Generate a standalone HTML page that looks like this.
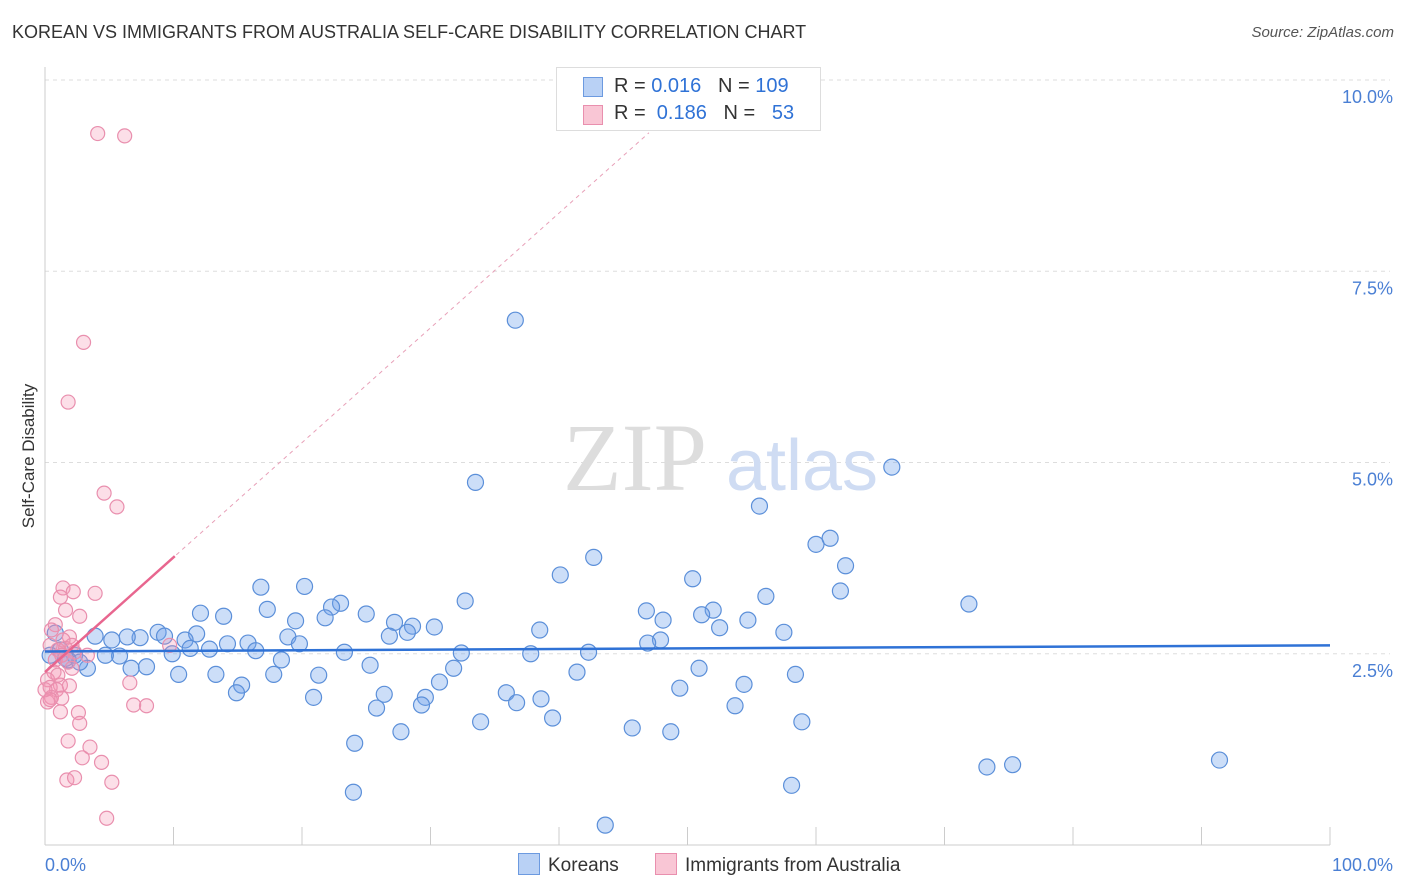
<!DOCTYPE html>
<html><head><meta charset="utf-8">
<style>
body{margin:0;background:#fff;font-family:"Liberation Sans",sans-serif;}
#wrap{position:relative;width:1406px;height:892px;overflow:hidden;}
.t{position:absolute;white-space:nowrap;}
</style></head>
<body>
<div id="wrap">
<div class="t" style="left:12px;top:22px;font-size:18px;color:#333;">KOREAN VS IMMIGRANTS FROM AUSTRALIA SELF-CARE DISABILITY CORRELATION CHART</div>
<div class="t" style="right:12px;top:24px;font-size:15px;color:#555;font-style:italic;">Source: ZipAtlas.com</div>
<svg id="plot" width="1406" height="892" style="position:absolute;left:0;top:0"></svg>
</div>
<script>
const yTicks=[2.5,5.0,7.5,10.0];
const yTickLabels=["2.5%","5.0%","7.5%","10.0%"];
const xTickLabels=["0.0%","100.0%"];
const koreanX=[36.6,33.5,65.9,55.6,42.7,40.1,60.0,61.1,62.3,50.4,61.9,56.1,71.9,32.7,20.2,16.8,23.0,22.3,25.0,27.2,21.8,19.5,17.3,12.1,13.9,46.8,52.0,51.1,48.1,54.7,52.5,57.5,38.5,30.3,28.6,28.2,26.8,18.9,19.8,15.8,14.2,11.8,10.9,8.8,9.3,7.4,6.4,5.2,3.9,47.9,46.9,42.3,37.8,32.4,23.3,16.4,12.8,11.3,9.9,5.8,4.7,2.3,3.3,6.7,7.9,10.4,13.3,17.8,18.4,21.3,25.3,31.8,30.7,41.4,50.9,58.4,54.4,49.4,35.9,38.6,36.7,26.4,29.6,20.9,15.3,14.9,25.8,29.3,53.7,39.5,33.9,58.9,45.7,48.7,27.7,24.1,73.3,75.3,91.4,58.1,24.0,43.6,0.8,1.2,1.8,0.4,1.6,2.7];
const koreanY=[6.86,4.74,4.94,4.43,3.76,3.53,3.93,4.01,3.65,3.48,3.32,3.25,3.15,3.19,3.38,3.37,3.16,3.11,3.02,2.91,2.97,2.93,3.08,3.03,2.99,3.06,3.07,3.01,2.94,2.94,2.84,2.78,2.81,2.85,2.86,2.78,2.73,2.72,2.63,2.64,2.63,2.76,2.68,2.78,2.73,2.71,2.72,2.68,2.73,2.68,2.64,2.52,2.50,2.51,2.52,2.54,2.56,2.57,2.50,2.47,2.48,2.48,2.31,2.31,2.33,2.23,2.23,2.23,2.42,2.22,2.35,2.31,2.13,2.26,2.31,2.23,2.10,2.05,1.99,1.91,1.86,1.97,1.93,1.93,2.09,1.99,1.79,1.83,1.82,1.66,1.61,1.61,1.53,1.48,1.48,1.33,1.02,1.05,1.11,0.78,0.69,0.26,2.77,2.55,2.42,2.48,2.44,2.39];
const ausX=[4.1,6.2,3.0,1.8,4.6,5.6,1.4,2.2,3.9,1.2,1.6,2.7,0.8,0.5,1.9,1.4,0.4,1.0,2.3,3.3,9.7,1.8,2.1,0.7,0.2,1.2,0.4,0.9,1.9,6.6,0.5,1.3,0.2,6.9,7.9,1.2,2.6,2.7,1.8,3.5,2.9,4.4,1.7,2.3,5.2,4.8,0.8,1.0,1.6,2.1,0.0,0.4,1.3];
const ausY=[9.30,9.27,6.57,5.79,4.60,4.42,3.36,3.31,3.29,3.24,3.07,2.99,2.88,2.81,2.72,2.68,2.61,2.55,2.52,2.48,2.61,2.39,2.31,2.26,2.16,2.09,2.06,2.03,2.08,2.12,1.93,1.92,1.87,1.83,1.82,1.74,1.73,1.59,1.36,1.28,1.14,1.08,0.85,0.88,0.82,0.35,2.42,2.22,2.57,2.61,2.03,1.90,2.48];
const koreanTrend=[2.53,2.61];
const ausTrend=[2.26,0.15];

const X0=45,X1=1330,Y0=845,YT=80;
const sx=v=>X0+(X1-X0)*v/100;
const sy=v=>Y0-(Y0-YT)*v/10;
const svg=document.getElementById('plot');
const NS='http://www.w3.org/2000/svg';
function mk(tag,attrs){const e=document.createElementNS(NS,tag);for(const k in attrs)e.setAttribute(k,attrs[k]);svg.appendChild(e);return e;}

yTicks.forEach((v,i)=>{
 const g=mk('line',{x1:X0,x2:X1+60,y1:sy(v),y2:sy(v),stroke:'#ddd','stroke-dasharray':'4,4'});
 
 
 const t=mk('text',{x:1393,y:sy(v)+23,'text-anchor':'end','font-size':'18',fill:'#4a7fd4','font-family':'Liberation Sans'});
 t.textContent=yTickLabels[i];
 
 
});
const ax=mk('line',{x1:X0,x2:X0,y1:67,y2:Y0,stroke:'#ccc'});


const bx=mk('line',{x1:X0,x2:X1,y1:Y0,y2:Y0,stroke:'#ccc'});


for(let i=0;i<=10;i++){
 const tk=mk('line',{x1:sx(i*10),x2:sx(i*10),y1:Y0-18,y2:Y0,stroke:'#ccc'});
 
 
}
[[0,'start',45],[100,'end',1393]].forEach((d,i)=>{
 const t=mk('text',{x:d[2],y:871,'text-anchor':d[1],'font-size':'18',fill:'#4a7fd4','font-family':'Liberation Sans'});
 t.textContent=xTickLabels[i];
 
 
});
const yl=mk('text',{x:34,y:456,'text-anchor':'middle','font-size':'17',fill:'#333','font-family':'Liberation Sans',transform:'rotate(-90 34 456)'});
yl.textContent='Self-Care Disability';



// watermark
const w1=mk('text',{x:635,y:490,'text-anchor':'middle','font-size':'96',fill:'#ddd','font-family':'Liberation Serif'});
w1.textContent='ZIP';


const w2=mk('text',{x:802,y:490,'text-anchor':'middle','font-size':'72',fill:'#cfdcf3','font-family':'Liberation Sans'});
w2.textContent='atlas';



// pink dashed trend
const pd=mk('line',{x1:sx(0),y1:sy(ausTrend[0]),x2:sx(47),y2:sy(ausTrend[0]+ausTrend[1]*47),stroke:'#e8a0b8','stroke-dasharray':'4,4','stroke-width':1});



koreanX.forEach((x,i)=>{
 const c=mk('circle',{cx:sx(x),cy:sy(koreanY[i]),r:8,fill:'rgba(110,160,235,0.35)',stroke:'#5b8fd9','stroke-width':1.2});
 
 
});
ausX.forEach((x,i)=>{
 const c=mk('circle',{cx:sx(x),cy:sy(ausY[i]),r:7,fill:'rgba(245,150,180,0.3)',stroke:'#e98fae','stroke-width':1.2});
 
 
});
const kt=mk('line',{x1:sx(0),y1:sy(koreanTrend[0]),x2:sx(100),y2:sy(koreanTrend[1]),stroke:'#2f72d6','stroke-width':2.5});


const at=mk('line',{x1:sx(0),y1:sy(ausTrend[0]),x2:sx(10.1),y2:sy(ausTrend[0]+ausTrend[1]*10.1),stroke:'#e8668f','stroke-width':2.5});


</script>
<div class="t" style="left:556px;top:67px;width:263px;height:62px;border:1px solid #ddd;background:#fff;font-size:20px;color:#333;">
 <div style="position:absolute;left:26px;top:9px;width:18px;height:18px;background:#b9d1f5;border:1px solid #6c9ae0;"></div>
 <div style="position:absolute;left:57px;top:7px;">R = <span style="color:#2f72d6">0.016</span>&nbsp;&nbsp;&nbsp;N = <span style="color:#2f72d6">109</span></div>
 <div style="position:absolute;left:26px;top:37px;width:18px;height:18px;background:#f9c6d5;border:1px solid #e98fae;"></div>
 <div style="position:absolute;left:57px;top:34px;">R = &nbsp;<span style="color:#2f72d6">0.186</span>&nbsp;&nbsp;&nbsp;N = &nbsp;&nbsp;<span style="color:#2f72d6">53</span></div>
</div>
<div class="t" style="left:518px;top:853px;font-size:19px;color:#333;">
 <span style="display:inline-block;width:20px;height:20px;background:#b9d1f5;border:1px solid #6c9ae0;vertical-align:-4px;margin-right:8px;"></span>Koreans</div>
<div class="t" style="left:655px;top:853px;font-size:19px;color:#333;">
 <span style="display:inline-block;width:20px;height:20px;background:#f9c6d5;border:1px solid #e98fae;vertical-align:-4px;margin-right:8px;"></span>Immigrants from Australia</div>
</body></html>
